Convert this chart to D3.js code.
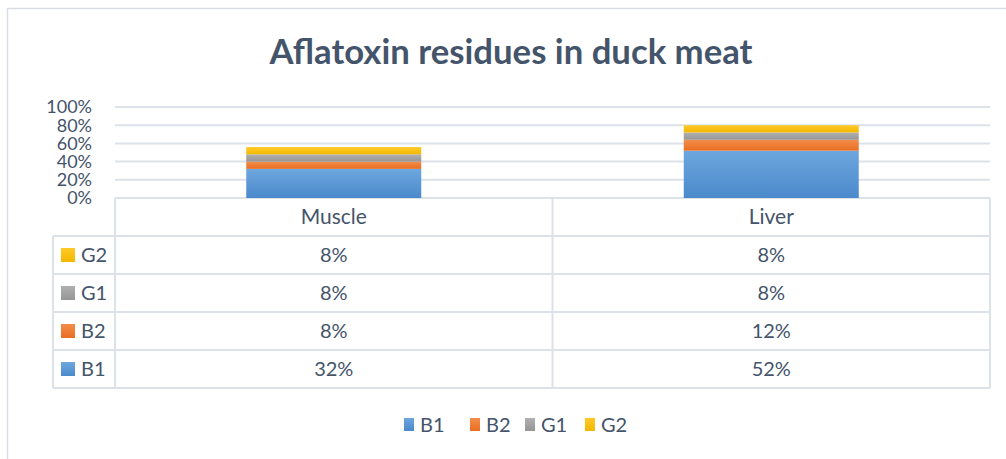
<!DOCTYPE html>
<html>
<head>
<meta charset="utf-8">
<script src="https://cdn.jsdelivr.net/npm/d3@7"></script>
<style>
  body { margin: 0; background: #fff; }
  svg { display: block; font-family: Lato, "Open Sans", sans-serif; }
</style>
</head>
<body>
<div id="chart"></div>
<script>
// chart values
const categories = ['Muscle', 'Liver'];
const seriesNames = ['B1', 'B2', 'G1', 'G2'];
const b1Values = [0.32, 0.52];
const b2Values = [0.08, 0.12];
const g1Values = [0.08, 0.08];
const g2Values = [0.08, 0.08];
const yTicks = [0, 0.2, 0.4, 0.6, 0.8, 1.0];

const colors = {B1: ['#6ea7df', '#4a89cb'], B2: ['#f38d4b', '#e96e22'], G1: ['#b0b0b0', '#969696'], G2: ['#ffc92a', '#f4b800']};

const rows = categories.map((c, i) => ({
  category: c, B1: b1Values[i], B2: b2Values[i], G1: g1Values[i], G2: g2Values[i]
}));
const series = d3.stack().keys(seriesNames)(rows);

const width = 1006, height = 459;
const textColor = '#44546a';
const lineColor = '#dde1e8';

const svg = d3.select('#chart').append('svg')
    .attr('width', width)
    .attr('height', height);

// gradients for the bars
const defs = svg.append('defs');
seriesNames.forEach(k => {
  const g = defs.append('linearGradient')
      .attr('id', 'grad-' + k)
      .attr('x1', 0).attr('y1', 0).attr('x2', 0).attr('y2', 1);
  g.append('stop').attr('offset', '0%').attr('stop-color', colors[k][0]);
  g.append('stop').attr('offset', '100%').attr('stop-color', colors[k][1]);
});

// outer chart frame
svg.append('rect')
    .attr('x', 7.5).attr('y', 8.5)
    .attr('width', 1010).attr('height', 470)
    .attr('fill', 'none')
    .attr('stroke', '#d9dde3')
    .attr('stroke-width', 1.5);

svg.append('text')
    .attr('x', 511).attr('y', 64)
    .attr('text-anchor', 'middle')
    .attr('font-size', 34)
    .attr('font-weight', 'bold')
    .attr('fill', textColor)
    .attr('textLength', 483)
    .attr('lengthAdjust', 'spacingAndGlyphs')
    .text('Aflatoxin residues in duck meat');

const plotLeft = 115, plotRight = 990;
const xScale = d3.scaleBand()
    .domain(categories)
    .range([plotLeft, plotRight]);
const yScale = d3.scaleLinear()
    .domain([0, 1])
    .range([198, 107]);

// gridlines
svg.append('g')
    .selectAll('line')
    .data(yTicks)
    .join('line')
    .attr('x1', plotLeft).attr('x2', plotRight)
    .attr('y1', d => yScale(d)).attr('y2', d => yScale(d))
    .attr('stroke', lineColor)
    .attr('stroke-width', 2);

// y axis labels
const yAxis = svg.append('g')
    .attr('transform', 'translate(' + plotLeft + ',0)')
    .call(d3.axisLeft(yScale).tickValues(yTicks).tickFormat(d3.format('.0%')).tickSize(0).tickPadding(23));
yAxis.select('.domain').remove();
yAxis.selectAll('text')
    .attr('font-size', 18)
    .attr('font-family', 'Lato, sans-serif')
    .attr('fill', textColor)
    .attr('dy', '0.33em');

// stacked bars
const barW = xScale.bandwidth() * 0.4;
svg.append('g')
    .selectAll('g')
    .data(series)
    .join('g')
    .attr('fill', d => 'url(#grad-' + d.key + ')')
    .selectAll('rect')
    .data(d => d)
    .join('rect')
    .attr('x', d => xScale(d.data.category) + (xScale.bandwidth() - barW) / 2)
    .attr('y', d => yScale(d[1]))
    .attr('height', d => yScale(d[0]) - yScale(d[1]))
    .attr('width', barW);

// data table
const tableTop = 198, headerH = 38, rowH = 38, keyLeft = 53;
const tableRows = seriesNames.slice().reverse();
const table = svg.append('g');
const tableBottom = tableTop + headerH + rowH * tableRows.length;

// horizontal lines
const hLines = [tableTop + headerH].concat(tableRows.map((r, i) => tableTop + headerH + rowH * (i + 1)));
table.selectAll('line.h')
    .data(hLines)
    .join('line')
    .attr('class', 'h')
    .attr('x1', keyLeft).attr('x2', plotRight)
    .attr('y1', d => d).attr('y2', d => d)
    .attr('stroke', lineColor).attr('stroke-width', 2);

// vertical lines
const vLines = [
  {x: keyLeft, y1: tableTop + headerH},
  {x: plotLeft, y1: tableTop},
  {x: xScale(categories[1]), y1: tableTop},
  {x: plotRight, y1: tableTop}
];
table.selectAll('line.v')
    .data(vLines)
    .join('line')
    .attr('class', 'v')
    .attr('x1', d => d.x).attr('x2', d => d.x)
    .attr('y1', d => d.y1).attr('y2', tableBottom)
    .attr('stroke', lineColor).attr('stroke-width', 2);

// header
table.selectAll('text.cat')
    .data(categories)
    .join('text')
    .attr('class', 'cat')
    .attr('x', d => xScale(d) + xScale.bandwidth() / 2)
    .attr('y', tableTop + headerH / 2 + 7)
    .attr('text-anchor', 'middle')
    .attr('font-size', 21)
    .attr('fill', textColor)
    .text(d => d);

const pct = d3.format('.0%');
tableRows.forEach((key, i) => {
  const cy = tableTop + headerH + rowH * i + rowH / 2;
  table.append('rect')
      .attr('x', 61).attr('y', cy - 7)
      .attr('width', 14).attr('height', 14)
      .attr('fill', 'url(#grad-' + key + ')');
  table.append('text')
      .attr('x', 81).attr('y', cy + 7)
      .attr('font-size', 20)
      .attr('fill', textColor)
      .text(key);
  const s = series.find(d => d.key === key);
  table.selectAll(null)
      .data(s)
      .join('text')
      .attr('x', d => xScale(d.data.category) + xScale.bandwidth() / 2)
      .attr('y', cy + 7)
      .attr('text-anchor', 'middle')
      .attr('font-size', 20)
      .attr('fill', textColor)
      .text(d => pct(d.data[key]));
});

// legend
const legendX = [404, 470, 525, 585];
const legend = svg.append('g')
    .selectAll('g')
    .data(seriesNames)
    .join('g')
    .attr('transform', (d, i) => 'translate(' + legendX[i] + ',418)');
legend.append('rect')
    .attr('width', 10).attr('height', 13)
    .attr('fill', d => 'url(#grad-' + d + ')');
legend.append('text')
    .attr('x', 16).attr('y', 14)
    .attr('font-size', 20)
    .attr('fill', textColor)
    .text(d => d);
</script>
</body>
</html>
